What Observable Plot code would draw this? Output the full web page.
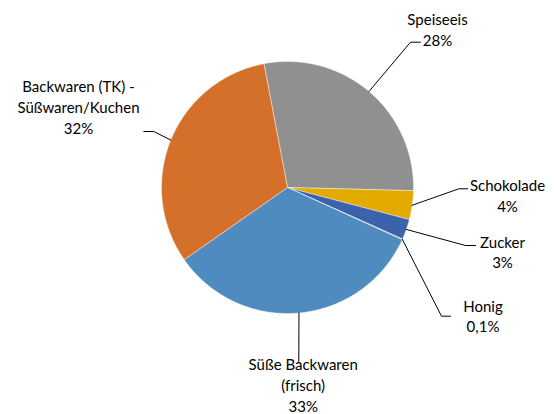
<!DOCTYPE html>
<html>
<head>
<meta charset="utf-8">
<script src="https://cdn.jsdelivr.net/npm/d3@7"></script>
<script src="https://cdn.jsdelivr.net/npm/@observablehq/plot@0.6"></script>
<style>
  html, body { margin: 0; padding: 0; background: #fff; }
</style>
</head>
<body>
<div id="chart"></div>
<script>
// ---- data ----
const categories = ["Speiseeis", "Schokolade", "Zucker", "Honig", "Süße Backwaren\n(frisch)", "Backwaren (TK) -\nSüßwaren/Kuchen"];
const shares = [28.4, 3.7, 2.6, 0.1, 33.5, 31.7];
const shareLabels = ["28%", "4%", "3%", "0,1%", "33%", "32%"];
const colors = ["#909090", "#E3AA00", "#3B63AC", "#7FAF5A", "#4F8BBE", "#D4702A"];

// ---- layout (pixels) ----
const W = 554, H = 414;
const cx = 287, cy = 187, R = 126;
const startDeg = -10.8;
// label block centre and leader elbow / end
const labelCenter = [[437, 28.5], [507, 194.5], [502, 251], [482.5, 315], [302.7, 384], [78, 105.8]];
const leaderElbow = [[410, 41.7], [458.3, 188.3], [465, 245], [441, 315.7], [298.3, 361], [153.3, 131]];
const leaderEnd = [[420, 41.7], [467.3, 188.3], [475, 245], [450, 315.7], [298.3, 361], [143.3, 131]];

const rows = categories.map((c, i) => ({cat: c, value: shares[i], label: shareLabels[i], color: colors[i], i}));
const arcs = d3.pie().sort(null).value(d => d.value)
  .startAngle(startDeg * Math.PI / 180)
  .endAngle(startDeg * Math.PI / 180 + 2 * Math.PI)(rows);

const px = a => cx + R * Math.sin(a);
const py = a => cy - R * Math.cos(a);

const polys = [];
arcs.forEach(a => {
  polys.push({x: cx, y: cy, i: a.data.i});
  const n = Math.max(2, Math.ceil((a.endAngle - a.startAngle) / (0.4 * Math.PI / 180)));
  for (let k = 0; k <= n; k++) {
    const t = a.startAngle + (a.endAngle - a.startAngle) * k / n;
    polys.push({x: px(t), y: py(t), i: a.data.i});
  }
  polys.push({x: cx, y: cy, i: a.data.i});
});

const leaders = [];
arcs.forEach(a => {
  const i = a.data.i, m = (a.startAngle + a.endAngle) / 2;
  leaders.push({x: px(m), y: py(m), i});
  leaders.push({x: leaderElbow[i][0], y: leaderElbow[i][1], i});
  leaders.push({x: leaderEnd[i][0], y: leaderEnd[i][1], i});
});

const texts = rows.map((r, i) => ({x: labelCenter[i][0], y: labelCenter[i][1], text: r.cat + "\n" + r.label}));

const plot = Plot.plot({
  width: W, height: H,
  margin: 0,
  x: {domain: [0, W], range: [0, W], axis: null},
  y: {domain: [0, H], range: [0, H], axis: null},
  style: {fontFamily: "Lato, 'Open Sans', sans-serif", background: "#fff"},
  marks: [
    Plot.line(polys, {x: "x", y: "y", z: "i", fill: d => colors[d.i], stroke: "#fff", strokeWidth: 0.6, strokeOpacity: 0.7, curve: "linear"}),
    Plot.line(leaders, {x: "x", y: "y", z: "i", stroke: "#000", strokeWidth: 1}),
    Plot.text(texts, {x: "x", y: "y", text: "text", fontSize: 15, lineHeight: 1.38, fill: "#000", textAnchor: "middle", lineAnchor: "middle"})
  ]
});
document.getElementById("chart").appendChild(plot);
</script>
</body>
</html>
